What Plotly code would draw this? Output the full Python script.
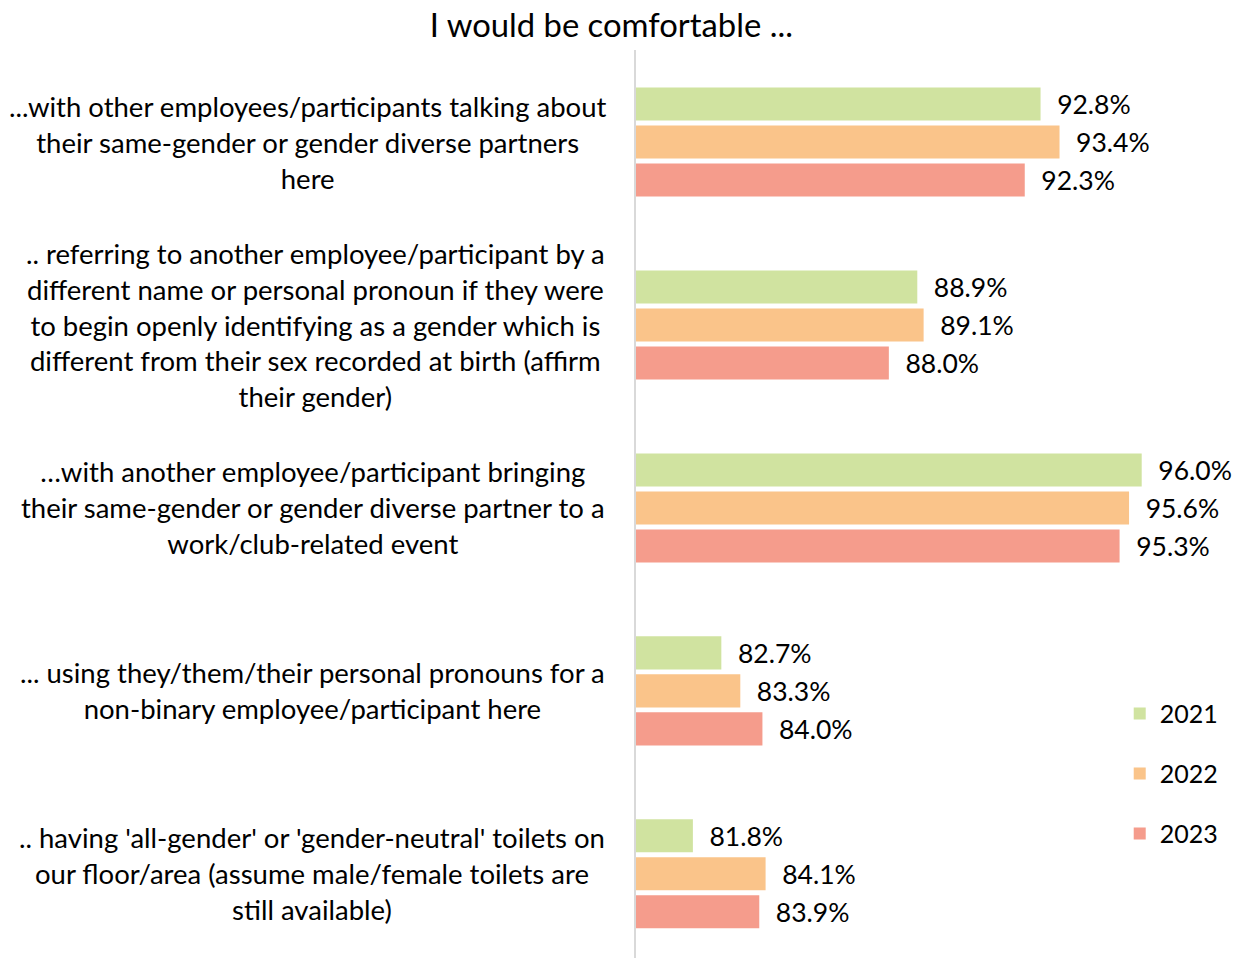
import plotly.graph_objects as go

title = "I would be comfortable ..."
categories = [
    "...with other employees/participants talking about<br>their same-gender or gender diverse partners<br>here",
    ".. referring to another employee/participant by a<br>different name or personal pronoun if they were<br>to begin openly identifying as a gender which is<br>different from their sex recorded at birth (affirm<br>their gender)",
    "…with another employee/participant bringing<br>their same-gender or gender diverse partner to a<br>work/club-related event",
    "... using they/them/their personal pronouns for a<br>non-binary employee/participant here",
    ".. having 'all-gender' or 'gender-neutral' toilets on<br>our floor/area (assume male/female toilets are<br>still available)",
]
years = ["2021", "2022", "2023"]
values = {
    "2021": [92.8, 88.9, 96.0, 82.7, 81.8],
    "2022": [93.4, 89.1, 95.6, 83.3, 84.1],
    "2023": [92.3, 88.0, 95.3, 84.0, 83.9],
}
colors = {"2021": "#D0E3A0", "2022": "#FAC48A", "2023": "#F59C8C"}

FONT = "Lato"
positions = list(range(len(categories)))
label_x = [-0.543, -0.53, -0.535, -0.535, -0.537]

fig = go.Figure()
for yr in years:
    fig.add_trace(go.Bar(
        name=yr,
        y=positions,
        x=values[yr],
        orientation="h",
        marker=dict(color=colors[yr], line=dict(width=0)),
        text=["\u00a0\u00a0" + f"{v:.1f}%" for v in values[yr]],
        textposition="outside",
        cliponaxis=False,
        textfont=dict(family=FONT, size=26.5, color="black"),
        legendgroup=yr,
    ))

for p, lab, lx in zip(positions, categories, label_x):
    fig.add_annotation(
        x=lx, xref="paper", y=p, yref="y",
        text=lab, showarrow=False, xanchor="center", yanchor="middle",
        align="center", font=dict(family=FONT, size=27.5, color="black"),
    )

fig.update_layout(
    width=1240, height=958,
    margin=dict(l=636, r=0, t=50, b=0, autoexpand=False),
    paper_bgcolor="white", plot_bgcolor="white",
    barmode="group", bargap=0.377, bargroupgap=0.13,
    title=dict(text=title, x=0.493, xanchor="center", y=0.973, yanchor="middle",
               font=dict(family=FONT, size=32.8, color="black")),
    showlegend=True,
    legend=dict(x=0.903, xref="container", y=0.279, yref="container", xanchor="left", yanchor="top",
                traceorder="grouped", tracegroupgap=24.5,
                font=dict(family=FONT, size=25, color="black"), bgcolor="rgba(0,0,0,0)"),
    xaxis=dict(range=[80, 99.11], visible=False),
    yaxis=dict(range=[4.46, -0.503], showticklabels=False, showgrid=False, zeroline=False,
               showline=True, linecolor="#D9D9D9", linewidth=2, ticks=""),
)

fig.write_html("out.html")
